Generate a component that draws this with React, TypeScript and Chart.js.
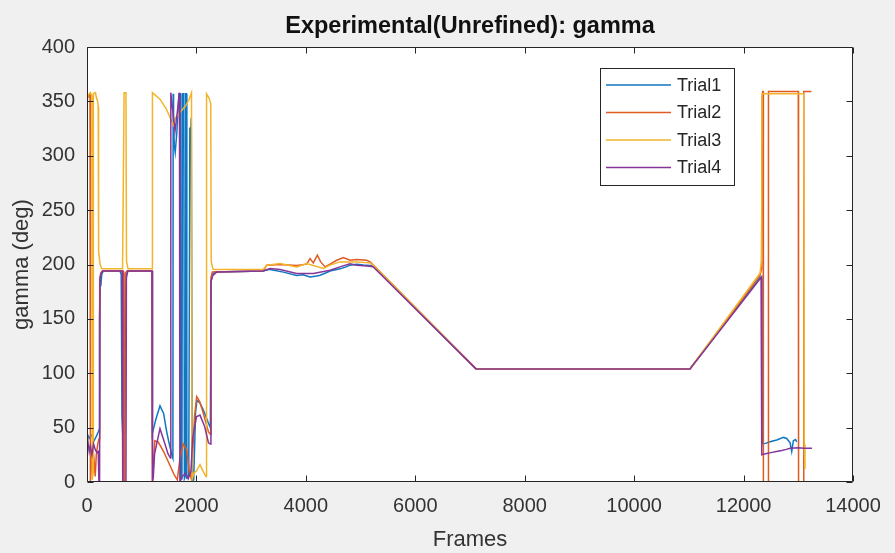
import React, { useEffect, useRef } from "react";
import { Chart, registerables } from "chart.js";

Chart.register(...registerables);

// ---- data -------------------------------------------------------------
const xTickValues = [0, 2000, 4000, 6000, 8000, 10000, 12000, 14000];
const yTickValues = [0, 50, 100, 150, 200, 250, 300, 350, 400];

const trial1Frames = [
  0, 40, 80, 130, 170, 205, 220, 228, 240, 252, 270, 300, 600, 625, 640, 655, 685, 700, 720, 745,
  1185, 1192, 1260, 1334, 1400, 1450, 1490, 1545, 1570, 1575, 1582, 1595, 1612, 1640, 1662, 1680,
  1700, 1712, 1735, 1745, 1770, 1780, 1795, 1805, 1815, 1825, 1860, 1880, 1892, 1905, 1925, 1950,
  1985, 2010, 2060, 2110, 2160, 2220, 2255, 2268, 2290, 2330, 3220, 3345, 3590, 3833, 3950, 4076,
  4200, 4259, 4350, 4442, 4564, 4624, 4750, 4807, 4929, 5050, 5173, 5233, 7110, 11020, 12300,
  12332, 12340, 12400, 12484, 12606, 12728, 12789, 12850, 12880, 12910, 12950, 12972,
];
const trial1Gamma = [
  45, 40, 43, 38, 42, 46, 48, 150, 186, 180, 191, 194, 194, 191, 60, 42, 45, 150, 190, 194,
  194, 44, 58, 70, 63, 48, 38, 26, 22, 357, 335, 310, 303, 320, 340, 357,
  357, 3, 3, 357, 357, 3, 5, 357, 357, 4, 6, 326, 314, 335, 0, 2,
  65, 75, 73, 68, 62, 54, 50, 185, 190, 193, 194, 195.5, 193, 190, 190.5, 188.6,
  189.5, 190.2, 192, 194, 195.4, 196, 198, 199.4, 200.3, 199.5, 199, 198.5, 104, 104, 188,
  189, 35, 35.5, 37, 38.6, 41, 40, 36, 28, 38, 39, 37,
];

const trial2Frames = [
  0, 30, 55, 62, 80, 100, 130, 150, 170, 200, 222, 232, 250, 280, 660, 668, 688, 698, 730,
  1188, 1195, 1240, 1300, 1400, 1500, 1600, 1650, 1700, 1760, 1820, 1870, 1910, 1940, 1965, 2005,
  2060, 2110, 2160, 2220, 2255, 2265, 2290, 3220, 3285, 3528, 3833, 4015, 4076, 4137, 4210, 4271,
  4350, 4442, 4564, 4685, 4807, 4929, 5112, 5173, 5233, 7110, 11020, 12300, 12328, 12340, 12348,
  12358, 12362, 12448, 12455, 13000, 13005, 13095, 13100, 13180, 13240,
];
const trial2Gamma = [
  352, 355, 357, 0, 15, 35, 20, 5, 25, 36, 40, 185, 192, 194, 194, 0, 0, 192, 194,
  194, 0, 38, 37, 28, 17, 6, 2, 22, 35, 30, 10, 2, 35, 60, 78.5,
  74, 66, 57, 46, 44, 188, 193, 194, 199.4, 200, 199, 200.3, 205.5, 201.5, 208.5, 202.4,
  197.8, 200.3, 203.9, 206.4, 204, 204.5, 203.9, 202.4, 199.4, 104, 104, 190, 196, 355, 359,
  359, 0, 0, 359, 359, 0, 0, 359, 359, 359,
];

const trial3Frames = [
  0, 25, 60, 90, 96, 110, 116, 150, 160, 195, 205, 212, 240, 270, 650, 678, 712, 722, 750,
  1190, 1196, 1334, 1450, 1580, 1620, 1700, 1790, 1860, 1910, 1920, 1950, 2000, 2065, 2120, 2175,
  2185, 2230, 2262, 2270, 2300, 2330, 3220, 3285, 3528, 3833, 4015, 4320, 4442, 4624, 4929, 5173,
  5233, 7110, 11020, 12300, 12330, 12338, 13100, 13108, 13122,
];
const trial3Gamma = [
  352, 356, 358, 355, 2, 8, 357, 358, 356, 350, 345, 212, 200, 196, 196, 358, 358, 203, 196,
  196, 358, 352, 343, 328, 335, 340, 345, 351, 358, 2, 8, 10, 16, 10, 5,
  357, 353, 348, 203, 196, 195.5, 195.5, 199.4, 200.9, 197.8, 200.9, 196.3, 199.4, 202.4, 202.4, 201.5,
  199.4, 104, 104, 192, 204, 357, 357, 35, 12,
];

const trial4Frames = [
  0, 20, 40, 60, 90, 120, 150, 180, 205, 218, 230, 238, 260, 285, 640, 650, 656, 712, 720, 745,
  1190, 1198, 1212, 1235, 1334, 1425, 1480, 1525, 1532, 1570, 1610, 1650, 1690, 1698, 1740, 1800,
  1850, 1900, 1930, 2000, 2065, 2150, 2220, 2255, 2265, 2300, 2370, 3220, 3345, 3528, 3833, 4137,
  4442, 4624, 4807, 4929, 5173, 5233, 7110, 11020, 12320, 12332, 12400, 12500, 12600, 12700,
  12780, 12850, 13000, 13100, 13250,
];
const trial4Gamma = [
  30, 36, 28, 33, 25, 35, 30, 27, 28, 0, 0, 188, 192, 194, 194, 185, 0, 0, 188, 194,
  194, 0, 5, 26, 49, 35, 26, 22, 358, 340, 323, 340, 358, 0, 5, 8,
  3, 10, 40, 60, 61.5, 51, 36, 35, 184, 190, 193, 194.1, 196.3, 195.4, 191.7, 191.7,
  194.8, 197.8, 200.7, 199.4, 198.4, 197.8, 104, 104, 188, 25, 26, 27, 28, 29,
  30, 31, 31.5, 31, 31,
];

const seriesLabels = ["Trial1", "Trial2", "Trial3", "Trial4"];
const seriesColors = ["#0f77c2", "#e05a22", "#f2b42a", "#86369a"];
const seriesFrames = [trial1Frames, trial2Frames, trial3Frames, trial4Frames];
const seriesGamma = [trial1Gamma, trial2Gamma, trial3Gamma, trial4Gamma];

const FONT = '"Liberation Sans", Arial, Helvetica, sans-serif';
const AXIS_COLOR = "#262626";

// Box, inward ticks on all four sides, title and legend box
const decorPlugin = {
  id: "decor",
  beforeDraw(chart: any) {
    const { ctx, chartArea: a } = chart;
    ctx.save();
    ctx.fillStyle = "#ffffff";
    ctx.fillRect(a.left, a.top, a.right - a.left, a.bottom - a.top);
    ctx.restore();
  },
  afterDraw(chart: any) {
    const { ctx, chartArea: a, scales } = chart;
    const L = Math.round(a.left) + 0.5;
    const R = Math.round(a.right) - 0.5;
    const T = Math.round(a.top) + 0.5;
    const B = Math.round(a.bottom) - 0.5;
    const tick = 6;
    ctx.save();
    ctx.strokeStyle = AXIS_COLOR;
    ctx.lineWidth = 1;
    ctx.beginPath();
    ctx.rect(L, T, R - L, B - T);
    for (const v of xTickValues) {
      const px = Math.round(scales.x.getPixelForValue(v)) + 0.5;
      ctx.moveTo(px, B);
      ctx.lineTo(px, B - tick);
      ctx.moveTo(px, T);
      ctx.lineTo(px, T + tick);
    }
    for (const v of yTickValues) {
      const py = Math.round(scales.y.getPixelForValue(v)) + 0.5;
      ctx.moveTo(L, py);
      ctx.lineTo(L + tick, py);
      ctx.moveTo(R, py);
      ctx.lineTo(R - tick, py);
    }
    ctx.stroke();

    // title
    ctx.fillStyle = "#111111";
    ctx.font = `bold 23.5px ${FONT}`;
    ctx.textAlign = "center";
    ctx.textBaseline = "middle";
    ctx.fillText("Experimental(Unrefined): gamma", (a.left + a.right) / 2, 27);

    // legend
    const lx = 600.5, ly = 68.5, lw = 134, lh = 117;
    ctx.fillStyle = "#ffffff";
    ctx.fillRect(lx, ly, lw, lh);
    ctx.strokeStyle = AXIS_COLOR;
    ctx.strokeRect(lx, ly, lw, lh);
    ctx.font = `18px ${FONT}`;
    ctx.textAlign = "left";
    ctx.textBaseline = "middle";
    chart.data.datasets.forEach((ds: any, i: number) => {
      const y = 85 + i * 27.5;
      ctx.strokeStyle = ds.borderColor;
      ctx.lineWidth = 1.5;
      ctx.beginPath();
      ctx.moveTo(606, y);
      ctx.lineTo(671, y);
      ctx.stroke();
      ctx.fillStyle = AXIS_COLOR;
      ctx.fillText(ds.label, 677, y + 1);
    });
    ctx.restore();
  },
};

export default function App() {
  const canvasRef = useRef<HTMLCanvasElement | null>(null);

  useEffect(() => {
    const canvas = canvasRef.current;
    if (!canvas) return;
    const datasets = seriesLabels.map((label, i) => ({
      label,
      data: seriesFrames[i].map((f, j) => ({ x: f, y: seriesGamma[i][j] })),
      borderColor: seriesColors[i],
      backgroundColor: seriesColors[i],
      borderWidth: 1.5,
      pointRadius: 0,
      tension: 0,
      fill: false,
      // later trials are painted over earlier ones
      order: seriesLabels.length - i,
    }));

    const chart = new Chart(canvas, {
      type: "line",
      data: { datasets },
      options: {
        responsive: false,
        animation: false,
        devicePixelRatio: 1,
        layout: { padding: { left: 0, top: 47, right: 42, bottom: 0 } },
        plugins: {
          legend: { display: false },
          title: { display: false },
          tooltip: { enabled: false },
        },
        scales: {
          x: {
            type: "linear",
            min: 0,
            max: 14000,
            afterBuildTicks: (s: any) => {
              s.ticks = xTickValues.map((v) => ({ value: v }));
            },
            afterFit: (s: any) => {
              s.height = 71;
            },
            grid: { display: false, drawTicks: false },
            border: { display: false },
            ticks: {
              autoSkip: false,
              maxRotation: 0,
              padding: 12,
              color: "#333333",
              font: { family: FONT, size: 20 },
              callback: (v: any) => String(v),
            },
            title: {
              display: true,
              text: "Frames",
              color: "#333333",
              font: { family: FONT, size: 22 },
              padding: { top: 0, bottom: 0 },
            },
          },
          y: {
            type: "linear",
            min: 0,
            max: 400,
            afterBuildTicks: (s: any) => {
              s.ticks = yTickValues.map((v) => ({ value: v }));
            },
            afterFit: (s: any) => {
              s.width = 87;
            },
            grid: { display: false, drawTicks: false },
            border: { display: false },
            ticks: {
              autoSkip: false,
              padding: 12,
              color: "#333333",
              font: { family: FONT, size: 20 },
              callback: (v: any) => String(v),
            },
            title: {
              display: true,
              text: "gamma (deg)",
              color: "#333333",
              font: { family: FONT, size: 22 },
              padding: { top: 9, bottom: 0 },
            },
          },
        },
      },
      plugins: [decorPlugin],
    } as any);

    return () => chart.destroy();
  }, []);

  return (
    <div
      style={{
        position: "fixed",
        left: 0,
        top: 0,
        width: 895,
        height: 553,
        background: "#f0f0f0",
      }}
    >
      <canvas ref={canvasRef} width={895} height={553} style={{ display: "block" }} />
    </div>
  );
}
